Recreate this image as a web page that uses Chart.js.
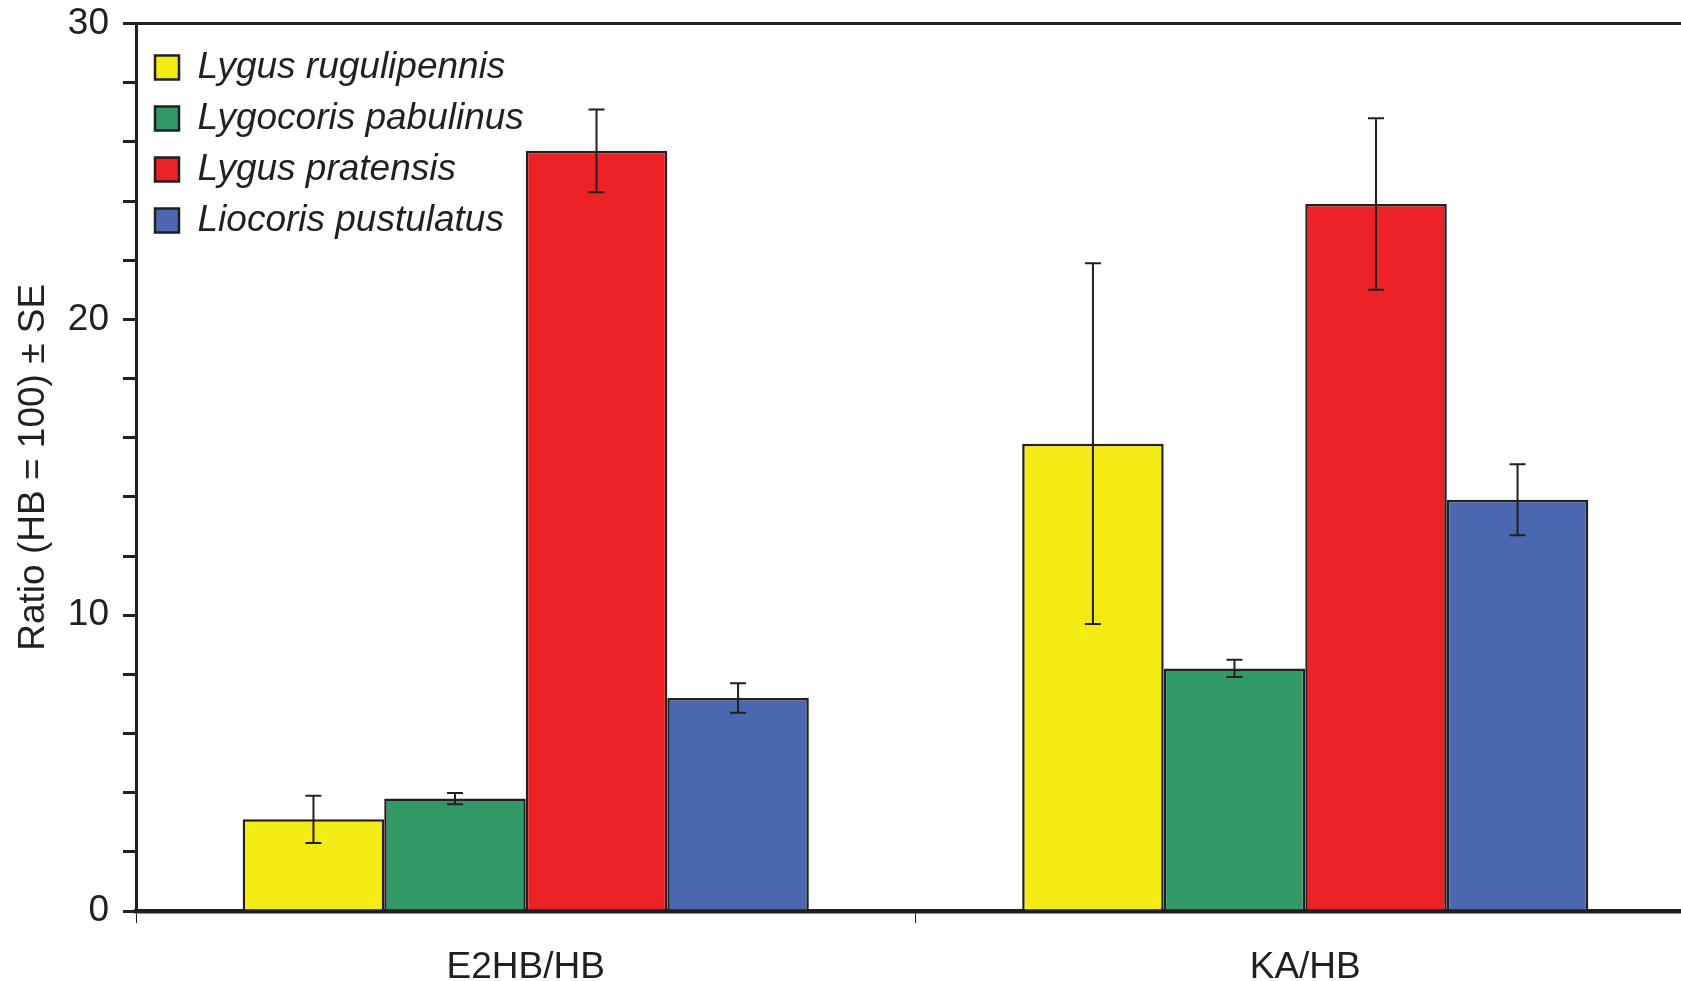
<!DOCTYPE html>
<html><head><meta charset="utf-8">
<script src="https://cdn.jsdelivr.net/npm/chart.js@4.4.1/dist/chart.umd.min.js"></script>
<style>
html,body{margin:0;padding:0;background:#fff;overflow:hidden;width:1681px;height:981px;}
#wrap{position:absolute;left:0;top:0;width:1700px;height:981px;}
</style></head><body>
<div id="wrap"><canvas id="c" width="1700" height="981"></canvas></div>
<script>
const categories = ['E2HB/HB', 'KA/HB'];
const seriesNames = ['Lygus rugulipennis', 'Lygocoris pabulinus', 'Lygus pratensis', 'Liocoris pustulatus'];
const rugulipennis = [3.1, 15.8];
const rugulipennisSE = [0.8, 6.1];
const pabulinus = [3.8, 8.2];
const pabulinusSE = [0.19, 0.29];
const pratensis = [25.7, 23.9];
const pratensisSE = [1.4, 2.9];
const pustulatus = [7.2, 13.9];
const pustulatusSE = [0.5, 1.2];
const yTickLabels = [0, 10, 20, 30];
const yTitle = 'Ratio (HB = 100) \u00B1 SE';

const INK = '#231F20';
const FAMILY = "'Liberation Sans', Arial, Helvetica, sans-serif";
const colors = ['#F4EA14', '#319966', '#EC2227', '#4A67B0'];
const values = [rugulipennis, pabulinus, pratensis, pustulatus];
const errors = [rugulipennisSE, pabulinusSE, pratensisSE, pustulatusSE];

const errorBars = {
  id: 'errorBars',
  afterDatasetsDraw(chart) {
    const ctx = chart.ctx;
    const y = chart.scales.y;
    ctx.save();
    ctx.strokeStyle = INK;
    ctx.lineWidth = 2;
    chart.data.datasets.forEach((ds, i) => {
      const meta = chart.getDatasetMeta(i);
      meta.data.forEach((bar, j) => {
        const v = ds.data[j], e = ds.se[j];
        const yt = y.getPixelForValue(v + e), yb = y.getPixelForValue(v - e);
        const x = bar.x, cap = 8;
        ctx.beginPath();
        ctx.moveTo(x, yt); ctx.lineTo(x, yb);
        ctx.moveTo(x - cap, yt); ctx.lineTo(x + cap, yt);
        ctx.moveTo(x - cap, yb); ctx.lineTo(x + cap, yb);
        ctx.stroke();
      });
    });
    ctx.restore();
  }
};

const legendShift = {
  id: 'legendShift',
  afterLayout(chart) {
    const l = chart.legend;
    if (l) { l.left += 5; l.right += 5; l.top += 35; l.bottom += 35; }
  }
};

new Chart(document.getElementById('c'), {
  type: 'bar',
  data: {
    labels: categories,
    datasets: seriesNames.map((name, i) => ({
      label: name,
      data: values[i],
      se: errors[i],
      backgroundColor: colors[i],
      borderColor: INK,
      borderWidth: 2.5,
      barPercentage: 1,
      categoryPercentage: 0.7263
    }))
  },
  options: {
    responsive: false,
    animation: false,
    devicePixelRatio: 1,
    layout: { padding: { left: 0, right: 5, top: 0, bottom: 0 } },
    plugins: {
      tooltip: { enabled: false },
      legend: {
        position: 'chartArea',
        align: 'start',
        labels: {
          boxWidth: 24, boxHeight: 24, padding: 14,
          color: INK,
          font: { family: FAMILY, size: 37, style: 'italic' }
        }
      }
    },
    scales: {
      x: {
        position: 'bottom',
        grid: { display: true, drawOnChartArea: false, offset: true, tickLength: 12, lineWidth: 1, color: INK },
        border: { display: true, width: 4.5, color: INK },
        ticks: { color: INK, font: { family: FAMILY, size: 37 }, padding: 23, maxRotation: 0 },
        afterFit(s) { s.height = 70; }
      },
      xTop: {
        type: 'category',
        position: 'top',
        grid: { display: false },
        ticks: { display: false },
        border: { display: true, width: 3, color: INK },
        afterFit(s) { s.height = 23.6; }
      },
      y: {
        min: 0, max: 30,
        ticks: {
          stepSize: 2, autoSkip: false, color: INK, padding: 14,
          font: { family: FAMILY, size: 37 },
          callback: (v) => yTickLabels.includes(v) ? String(v) : ''
        },
        grid: { drawOnChartArea: false, tickLength: 13, lineWidth: 3, color: INK },
        border: { display: true, width: 3, color: INK },
        title: { display: true, text: yTitle, color: INK, font: { family: FAMILY, size: 37 }, padding: { top: 12, bottom: 0 } },
        afterFit(s) { s.width = 136; s.paddingTop = 0; s.paddingBottom = 0; }
      }
    }
  },
  plugins: [errorBars, legendShift]
});
</script>
</body></html>
